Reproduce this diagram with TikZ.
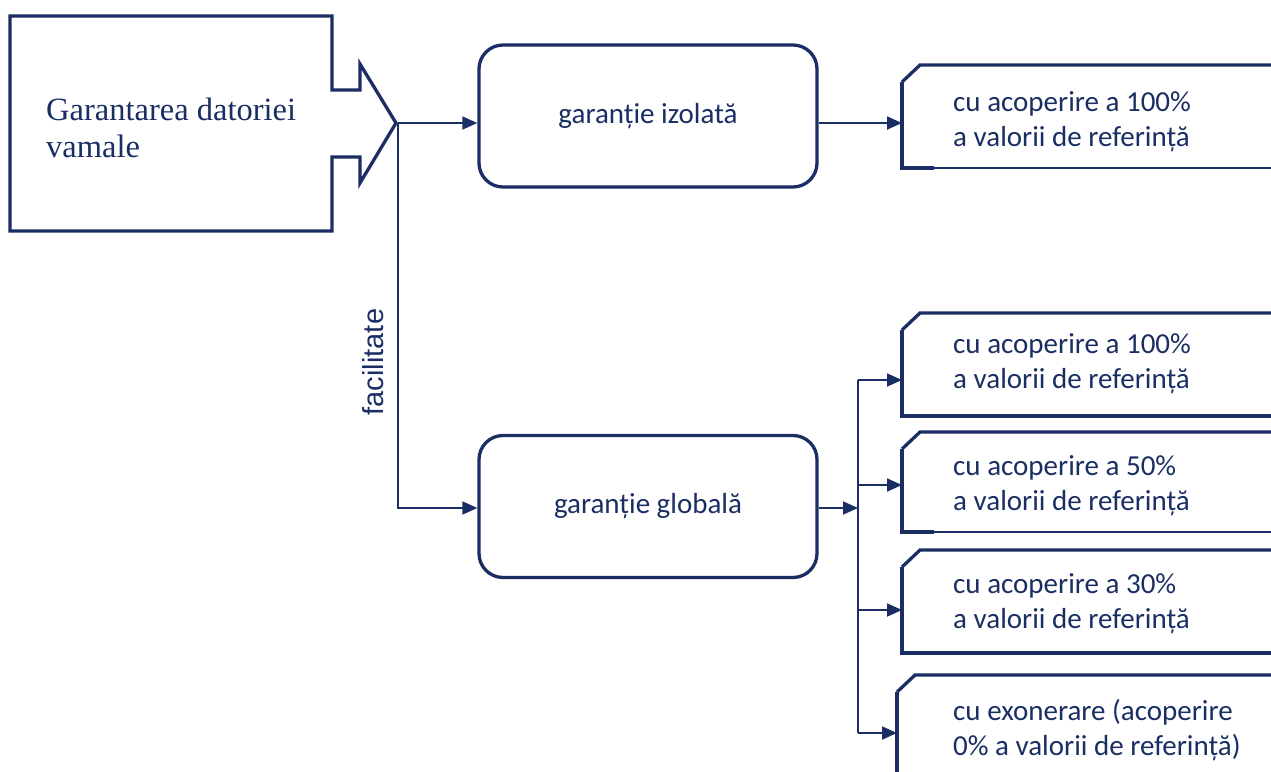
\documentclass[tikz,border=0pt]{standalone}
\usepackage{fontspec}
\setmainfont{Carlito}
\newfontfamily\garserif{Liberation Serif}
\newfontfamily\garsans{Liberation Sans}
\usetikzlibrary{arrows.meta}
\definecolor{navy}{RGB}{26,46,100}
\newcommand{\twolines}[2]{\vtop{\baselineskip=35pt\hbox{#1}\hbox{#2}}}
\tikzset{
  x=1pt, y=-1pt,
  thickline/.style={draw=navy, line width=3.3pt, line join=miter},
  thinline/.style={draw=navy, line width=1.6pt},
  conn/.style={draw=navy, line width=1.8pt, -{Triangle[length=15pt,width=13pt]}},
  plain/.style={draw=navy, line width=1.8pt},
  kind/.style={thickline, rounded corners=24pt, minimum width=338pt,
    minimum height=142pt, text=navy, font=\fontsize{29}{35}\selectfont},
  choice/.style={anchor=base west, inner sep=0pt, text=navy,
    font=\fontsize{29}{35}\selectfont},
}
\begin{document}
\begin{tikzpicture}
\useasboundingbox (0,0) rectangle (1271,771);
\clip (0,0) rectangle (1271,771);

% block arrow with the subject
\draw[thickline] (10,16) -- (332,16) -- (332,90) -- (360,90) -- (360,64)
  -- (396,123) -- (360,183) -- (360,157) -- (332,157) -- (332,231)
  -- (10,231) -- cycle;
\node[anchor=base west, inner sep=0pt, text=navy,
  font=\garserif\fontsize{32.5}{37}\selectfont] (subject) at (46,120)
  {\vtop{\baselineskip=37pt\hbox{Garantarea datoriei}\hbox{vamale}}};
\coordinate (tip) at (398,123);

% the two kinds of guarantee
\node[kind] (izol) at (648,116) {garanție izolată};
\node[kind] (glob) at (648,506.5) {garanție globală};

\draw[conn] (tip) -- (tip -| izol.west);
\draw[conn] (tip) |- (glob.west |- 0,508);
\node[rotate=90, anchor=base, inner sep=0pt, text=navy,
  font=\garsans\fontsize{29}{32}\selectfont] (fac) at (383,362) {facilitate};

% chamfered option boxes, open towards the right
\foreach \nm/\l/\t/\b/\tb in {r1/902/65/168/0, ra/902/313/416/1, rb/902/432/532/0,
                              rc/902/550/653/1, rd/897/675/790/1}{
  \draw[thickline] (\l,\t+17) -- (\l+18,\t) -- (1290,\t);
  \ifnum\tb=1
    \draw[thickline] (\l,\t+17) -- (\l,\b) -- (1290,\b);
  \else
    \draw[thickline] (\l,\t+17) -- (\l,\b) -- (934,\b);
    \draw[thinline] (934,\b) -- (1290,\b);
  \fi
}
\coordinate (r1in) at (902,123);
\coordinate (rain) at (902,380);
\coordinate (rbin) at (902,485);
\coordinate (rcin) at (902,610);
\coordinate (rdin) at (897,733);

\node[choice] (t1) at (953,111.7) {\twolines{cu acoperire a 100\%}{a valorii de referință}};
\node[choice] (ta) at (953,353) {\twolines{cu acoperire a 100\%}{a valorii de referință}};
\node[choice] (tb) at (953,475) {\twolines{cu acoperire a 50\%}{a valorii de referință}};
\node[choice] (tc) at (953,593) {\twolines{cu acoperire a 30\%}{a valorii de referință}};
\node[choice] (td) at (953,720) {\twolines{cu exonerare (acoperire}{0\% a valorii de referință)}};

% connectors to the options
\draw[conn] (izol.east |- r1in) -- (r1in);
\coordinate (fork) at (858,508);
\coordinate (forktop) at (858,380);
\coordinate (forkbot) at (858,733);
\draw[conn] (glob.east |- fork) -- (fork);
\draw[plain] (forktop) -- (forkbot);
\draw[conn] (forktop) -- (rain);
\draw[conn] (forktop |- rbin) -- (rbin);
\draw[conn] (forktop |- rcin) -- (rcin);
\draw[conn] (forkbot) -- (rdin);
\end{tikzpicture}
\end{document}
